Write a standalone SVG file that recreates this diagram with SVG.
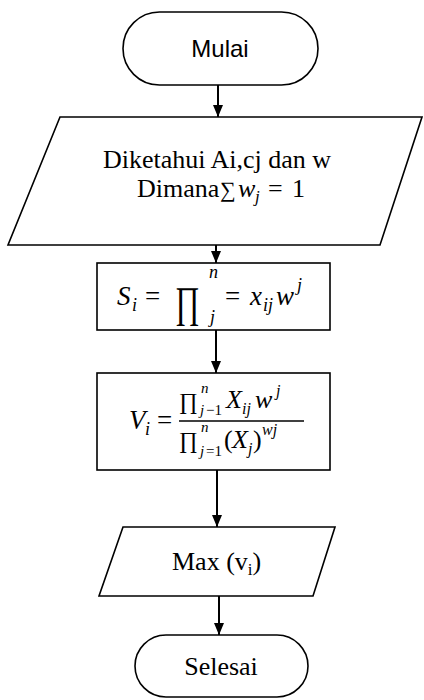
<svg xmlns="http://www.w3.org/2000/svg" width="424" height="700" viewBox="0 0 424 700">
<defs>
<marker id="ah" markerWidth="12" markerHeight="10" refX="12" refY="5" orient="auto" markerUnits="userSpaceOnUse">
<path d="M0,0 L12,5 L0,10 Z" fill="#000"/>
</marker>
<style>
.sh{fill:#fff;stroke:#000;stroke-width:1.6}
.cn{stroke:#000;stroke-width:2;fill:none;marker-end:url(#ah)}
.tm{font-family:"Liberation Serif","Times New Roman",serif;font-size:26px;fill:#000}
.mi{font-family:"Liberation Serif","Times New Roman",serif;font-style:italic;fill:#000}
.mu{font-family:"Liberation Serif","Times New Roman",serif;fill:#000}
.ss{font-family:"Liberation Sans",Arial,sans-serif;font-size:24px;fill:#000}
</style>
</defs>
<rect width="424" height="700" fill="#fff"/>
<g id="connectors">
<line class="cn" x1="218" y1="85" x2="218" y2="117"/>
<line class="cn" x1="216" y1="245" x2="216" y2="263"/>
<line class="cn" x1="216" y1="330" x2="216" y2="373"/>
<line class="cn" x1="217" y1="470" x2="217" y2="527"/>
<line class="cn" x1="219" y1="596" x2="219" y2="635"/>
</g>
<g id="mulai">
<rect class="sh" x="123" y="12" width="195" height="73" rx="36.5"/>
<text class="ss" x="220" y="57" text-anchor="middle">Mulai</text>
</g>
<g id="input">
<polygon class="sh" points="60,117 422,117 380,245 8,245"/>
<text class="tm" x="217" y="168" text-anchor="middle">Diketahui Ai,cj dan w</text>
<text class="tm" x="137" y="197">Dimana</text>
<text class="mu" x="220" y="197" font-size="22">∑</text>
<text class="mi" x="238" y="197" font-size="26">w</text>
<text class="mi" x="255" y="202" font-size="17">j</text>
<text class="mu" x="268" y="197" font-size="26">=</text>
<text class="mu" x="292" y="197" font-size="26">1</text>
</g>
<g id="si">
<rect class="sh" x="97" y="263" width="233" height="67"/>
<text class="mi" x="117" y="305" font-size="27">S</text>
<text class="mi" x="132" y="311" font-size="18">i</text>
<text class="mu" x="145" y="305" font-size="27">=</text>
<text class="mu" font-size="30" transform="translate(175,317) scale(1,1.45)">∏</text>
<text class="mi" x="209" y="278" font-size="18">n</text>
<text class="mi" x="210" y="323" font-size="18">j</text>
<text class="mu" x="225" y="305" font-size="27">=</text>
<text class="mi" x="250" y="305" font-size="27">x</text>
<text class="mi" x="263" y="311" font-size="18">ij</text>
<text class="mi" x="276" y="305" font-size="27">w</text>
<text class="mi" x="297" y="291" font-size="18">j</text>
</g>
<g id="vi">
<rect class="sh" x="97" y="373" width="233" height="97"/>
<text class="mi" x="129" y="429" font-size="27">V</text>
<text class="mi" x="145" y="435" font-size="18">i</text>
<text class="mu" x="157" y="429" font-size="27">=</text>
<line x1="179" y1="421" x2="304" y2="421" stroke="#000" stroke-width="1.6"/>
<text class="mu" x="179" y="409" font-size="23">∏</text>
<text class="mi" x="201" y="393" font-size="15">n</text>
<text class="mi" x="200" y="415" font-size="15">j</text>
<text class="mu" x="206" y="415" font-size="15">−1</text>
<text class="mi" x="226" y="408" font-size="26">X</text>
<text class="mi" x="242" y="414" font-size="16">ij</text>
<text class="mi" x="255" y="408" font-size="26">w</text>
<text class="mi" x="276" y="396" font-size="16">j</text>
<text class="mu" x="179" y="448" font-size="23">∏</text>
<text class="mi" x="201" y="432" font-size="15">n</text>
<text class="mi" x="200" y="456" font-size="15">j</text>
<text class="mu" x="206" y="456" font-size="15">=1</text>
<text class="mu" x="224" y="448" font-size="26">(</text>
<text class="mi" x="232" y="448" font-size="26">X</text>
<text class="mi" x="248" y="454" font-size="16">j</text>
<text class="mu" x="253" y="448" font-size="26">)</text>
<text class="mi" x="262" y="435" font-size="16">wj</text>
</g>
<g id="max">
<polygon class="sh" points="123,527 335,527 313,596 99,596"/>
<text class="tm" x="172" y="570">Max (v<tspan font-size="17" dy="5">i</tspan><tspan dy="-5">)</tspan></text>
</g>
<g id="selesai">
<rect class="sh" x="135" y="635" width="173" height="62" rx="31"/>
<text class="tm" x="221" y="675" text-anchor="middle">Selesai</text>
</g>
</svg>
